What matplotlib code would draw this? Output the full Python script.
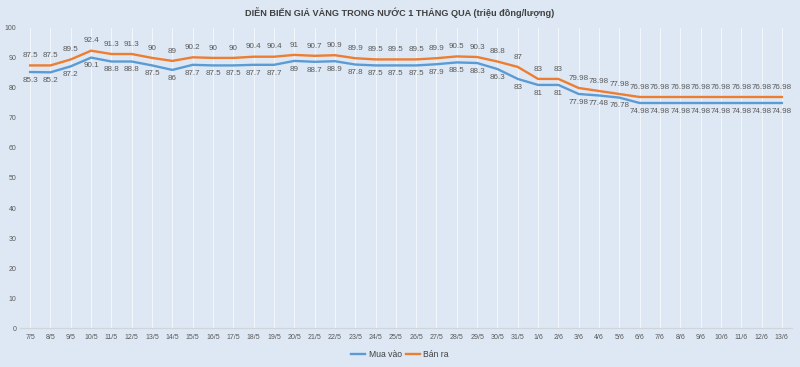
import numpy as np
import matplotlib.pyplot as plt

plt.rcParams["font.family"] = ["Liberation Sans", "DejaVu Sans"]

dates = ["7/5", "8/5", "9/5", "10/5", "11/5", "12/5", "13/5", "14/5", "15/5", "16/5",
         "17/5", "18/5", "19/5", "20/5", "21/5", "22/5", "23/5", "24/5", "25/5", "26/5",
         "27/5", "28/5", "29/5", "30/5", "31/5", "1/6", "2/6", "3/6", "4/6", "5/6",
         "6/6", "7/6", "8/6", "9/6", "10/6", "11/6", "12/6", "13/6"]
mua_vao = [85.3, 85.2, 87.2, 90.1, 88.8, 88.8, 87.5, 86, 87.7, 87.5,
           87.5, 87.7, 87.7, 89, 88.7, 88.9, 87.8, 87.5, 87.5, 87.5,
           87.9, 88.5, 88.3, 86.3, 83, 81, 81, 77.98, 77.48, 76.78,
           74.98, 74.98, 74.98, 74.98, 74.98, 74.98, 74.98, 74.98]
ban_ra = [87.5, 87.5, 89.5, 92.4, 91.3, 91.3, 90, 89, 90.2, 90,
          90, 90.4, 90.4, 91, 90.7, 90.9, 89.9, 89.5, 89.5, 89.5,
          89.9, 90.5, 90.3, 88.8, 87, 83, 83, 79.98, 78.98, 77.98,
          76.98, 76.98, 76.98, 76.98, 76.98, 76.98, 76.98, 76.98]

BG = "#dde8f4"
BLUE = "#5b9bd5"
ORANGE = "#ed7d31"
TXT = "#595959"

fig = plt.figure(figsize=(8, 3.67), dpi=100, facecolor=BG)
ax = fig.add_axes([0.025, 0.106, 0.965, 0.818], facecolor=BG)

x = np.arange(len(dates))
ax.plot(x, mua_vao, color=BLUE, lw=1.7, label="Mua vào", solid_joinstyle="round")
ax.plot(x, ban_ra, color=ORANGE, lw=1.7, label="Bán ra", solid_joinstyle="round")

def fmt(v):
    return ("%g" % v)

for i in x:
    ax.annotate(fmt(ban_ra[i]), (i, ban_ra[i]), xytext=(0, 4.5), textcoords="offset points",
                ha="center", va="bottom", fontsize=5.8, color=TXT)
    ax.annotate(fmt(mua_vao[i]), (i, mua_vao[i]), xytext=(0, -3.5), textcoords="offset points",
                ha="center", va="top", fontsize=5.8, color=TXT)

ax.set_xlim(-0.5, len(dates) - 0.5)
ax.set_ylim(0, 100)
ax.set_yticks(range(0, 101, 10))
ax.set_xticks(x)
ax.set_xticklabels(dates)
ax.tick_params(axis="both", length=0, labelsize=5, colors=TXT)
ax.tick_params(axis="x", pad=4)
ax.tick_params(axis="y", pad=2.5)
ax.grid(axis="x", color="#f2f5fa", lw=0.8)
ax.set_axisbelow(True)
for s in ["top", "right", "left"]:
    ax.spines[s].set_visible(False)
ax.spines["bottom"].set_color("#d0d5dc")
ax.spines["bottom"].set_linewidth(0.8)

fig.text(0.5, 0.967, "DIỄN BIẾN GIÁ VÀNG TRONG NƯỚC 1 THÁNG QUA (triệu đồng/lượng)",
         ha="center", va="center", fontsize=6.6, fontweight="bold", color="#404040")

fig.legend(loc="center", bbox_to_anchor=(0.5, 0.033), ncol=2, frameon=False,
           fontsize=6.2, labelcolor="#404040", handlelength=1.6, handletextpad=0.4,
           columnspacing=0.5)

fig.savefig("out.png", dpi=100, facecolor=BG)
